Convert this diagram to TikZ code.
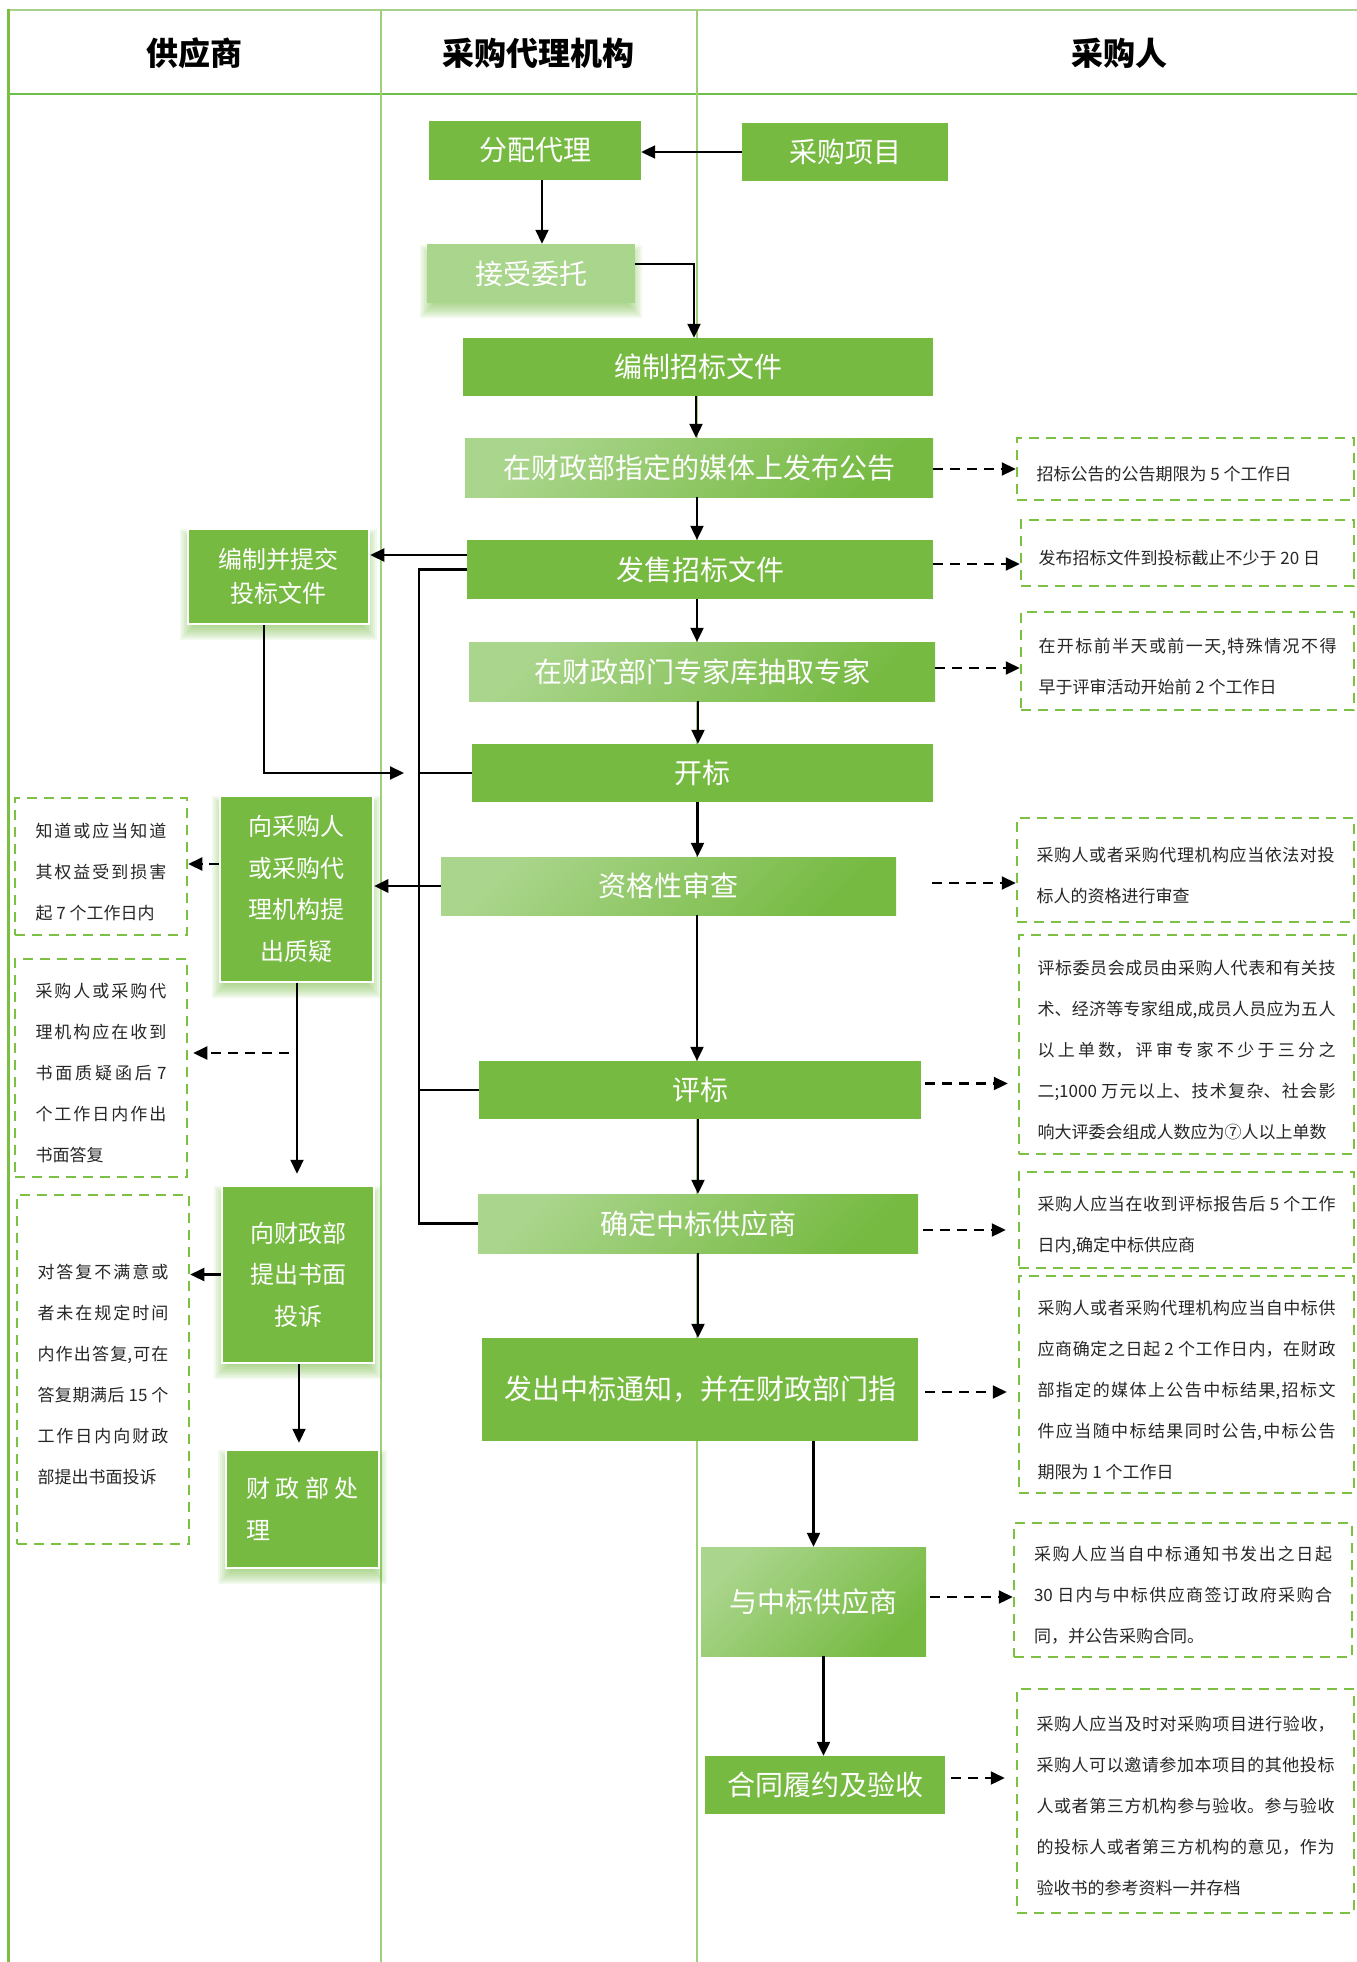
\documentclass[tikz,border=0pt]{standalone}
\usepackage{fontspec}
\setmainfont{Noto Sans CJK SC}
\usetikzlibrary{arrows.meta,calc}
% break opportunities between CJK characters, so that lines can be justified
\XeTeXlinebreaklocale "zh"
\XeTeXlinebreakskip=0pt plus 4pt
\tolerance=10000
\hbadness=10000
\hfuzz=4pt

\definecolor{gdark}{RGB}{118,186,66}
\definecolor{glight}{RGB}{170,213,140}
\definecolor{gdash}{RGB}{125,193,66}
\definecolor{lanegreen}{RGB}{122,190,68}
\definecolor{divgreen}{RGB}{158,208,122}
\definecolor{topgreen}{RGB}{169,209,142}
\definecolor{hdrgreen}{RGB}{108,192,74}
\definecolor{notegray}{RGB}{38,38,38}

\pgfdeclarelayer{lanes}
\pgfdeclarelayer{shadows}
\pgfsetlayers{lanes,shadows,main}

% soft green shadow under a box: stacked translucent rectangles
\newcommand\softshadow[1]{%
  \foreach \a/\b/\c/\d in {7/1/-7/15,5/3/-5/13,3/5/-3/11,1/7/-1/9,-1/9/1/7,-3/11/3/5,-5/13/5/3,-7/15/7/1}{%
    \fill[gdark,opacity=0.1] ($(#1.south west)+(\a,\b)$) rectangle ($(#1.north east)+(\c,\d)$);
  }}

\begin{document}
\begin{tikzpicture}[x=1pt,y=-1pt,
  every node/.style={inner sep=0pt},
  wh/.style 2 args={minimum width=#1, minimum height=#2},
  mainbox/.style={rectangle, fill=gdark, text=white, font=\fontsize{28}{34}\selectfont},
  lightbox/.style={mainbox, fill=glight},
  gradbox/.style={mainbox, top color=glight, bottom color=gdark, shading angle=45},
  supbox/.style={rectangle, fill=gdark, draw=white, line width=2.5pt, text=white, align=center, font=\fontsize{24}{41.5}\selectfont},
  note/.style={rectangle, draw=gdash, dash pattern=on 10pt off 7pt, line width=2.5pt, text=notegray, align=justify, font=\fontsize{17}{41}\selectfont, execute at begin node={\rule{0pt}{25pt}}},
  lnote/.style={note, text width=131},
  rnote/.style={note, text width=298},
  header/.style={font=\fontsize{32}{38}\selectfont\bfseries, text=black},
  conn/.style={draw=black, line width=2.2pt},
  arr/.style={conn, -{Triangle[length=14pt,width=13pt]}},
  darr/.style={arr, dash pattern=on 10pt off 7pt},
]
\useasboundingbox (0,0) rectangle (1357,1962);

% swim lanes
\begin{pgfonlayer}{lanes}
  \draw[topgreen, line width=2.5pt] (8,10) -- (1357,10);
  \draw[hdrgreen, line width=2pt] (8,94) -- (1357,94);
  \draw[divgreen, line width=1.5pt] (381,10) -- (381,1962);
  \draw[divgreen, line width=1.5pt] (697,10) -- (697,1962);
  \draw[lanegreen, line width=3pt] (8.5,9) -- (8.5,1962);
\end{pgfonlayer}

\node[header] (h1) at (194,53) {供应商};
\node[header] (h2) at (538,53) {采购代理机构};
\node[header] (h3) at (1119,53) {采购人};

% agency / purchaser flow
\node[mainbox, wh={212}{59}] (fpdl) at (535,150.5) {分配代理};
\node[mainbox, wh={206}{58}] (cgxm) at (845,152) {采购项目};
\node[lightbox, wh={208}{59}] (jswt) at (531,273.5) {接受委托};
\node[mainbox, wh={470}{58}] (bzzb) at (698,367) {编制招标文件};
\node[gradbox, wh={468}{59}] (fbgg) at (699,467.5) {在财政部指定的媒体上发布公告};
\node[mainbox, wh={466}{59}] (fszb) at (700,569.5) {发售招标文件};
\node[gradbox, wh={466}{59}] (cqzj) at (702,671.5) {在财政部门专家库抽取专家};
\node[mainbox, wh={461}{58}] (kb) at (702.5,773) {开标};
\node[gradbox, wh={455}{58}] (zg) at (668.5,886) {资格性审查};
\node[mainbox, wh={442}{58}] (pb) at (700,1090) {评标};
\node[gradbox, wh={440}{59}] (qd) at (698,1223.5) {确定中标供应商};
\node[mainbox, wh={436}{103}] (fc) at (700,1389.5) {发出中标通知，并在财政部门指};
\node[gradbox, wh={225}{109}] (qy) at (813.5,1601.5) {与中标供应商};
\node[mainbox, wh={240}{58}] (ht) at (825,1785) {合同履约及验收};

% supplier lane
\node[supbox, wh={181}{95}, font=\fontsize{24}{34}\selectfont] (tb) at (278.5,576.5) {编制并提交\\投标文件};
\node[supbox, wh={153}{186}] (zy) at (296.5,889) {向采购人\\或采购代\\理机构提\\出质疑};
\node[supbox, wh={152}{177}] (ts) at (298,1274.5) {向财政部\\提出书面\\投诉};
\node[supbox, wh={153}{118}, text width=113, align=justify] (cl) at (302.5,1509) {财政部处\linebreak 理};

% notes on the supplier side
\node[lnote, wh={172}{137}] (lb1) at (101,866.5) {知道或应当知道\linebreak 其权益受到损害\linebreak 起 7 个工作日内};
\node[lnote, wh={172}{218}] (lb2) at (101,1068) {采购人或采购代\linebreak 理机构应在收到\linebreak 书面质疑函后 7\linebreak 个工作日内作出\linebreak 书面答复};
\node[lnote, wh={172}{349}] (lb3) at (103,1369.5) {对答复不满意或\linebreak 者未在规定时间\linebreak 内作出答复,可在\linebreak 答复期满后 15 个\linebreak 工作日内向财政\linebreak 部提出书面投诉};

% notes on the purchaser side
\node[rnote, wh={337}{62}] (rb1) at (1185.5,469) {招标公告的公告期限为 5 个工作日};
\node[rnote, wh={333}{66}] (rb2) at (1187.5,553) {发布招标文件到投标截止不少于 20 日};
\node[rnote, wh={333}{98}] (rb3) at (1187.5,661) {在开标前半天或前一天,特殊情况不得\linebreak 早于评审活动开始前 2 个工作日};
\node[rnote, wh={337}{104}] (rb4) at (1185.5,870) {采购人或者采购代理机构应当依法对投\linebreak 标人的资格进行审查};
\node[rnote, wh={335}{219}] (rb5) at (1186.5,1044.5) {评标委员会成员由采购人代表和有关技\linebreak 术、经济等专家组成,成员人员应为五人\linebreak 以上单数，评审专家不少于三分之\linebreak 二;1000 万元以上、技术复杂、社会影\linebreak 响大评委会组成人数应为⑦人以上单数};
\node[rnote, wh={335}{96}] (rb6) at (1186.5,1220) {采购人应当在收到评标报告后 5 个工作\linebreak 日内,确定中标供应商};
\node[rnote, wh={335}{217}] (rb7) at (1186.5,1384.5) {采购人或者采购代理机构应当自中标供\linebreak 应商确定之日起 2 个工作日内，在财政\linebreak 部指定的媒体上公告中标结果,招标文\linebreak 件应当随中标结果同时公告,中标公告\linebreak 期限为 1 个工作日};
\node[rnote, wh={338}{134}] (rb8) at (1183,1590) {采购人应当自中标通知书发出之日起\linebreak 30 日内与中标供应商签订政府采购合\linebreak 同，并公告采购合同。};
\node[rnote, wh={337}{224}] (rb9) at (1185.5,1801) {采购人应当及时对采购项目进行验收，\linebreak 采购人可以邀请参加本项目的其他投标\linebreak 人或者第三方机构参与验收。参与验收\linebreak 的投标人或者第三方机构的意见，作为\linebreak 验收书的参考资料一并存档};

\begin{pgfonlayer}{shadows}
  \softshadow{jswt}
  \softshadow{tb}
  \softshadow{zy}
  \softshadow{ts}
  \softshadow{cl}
\end{pgfonlayer}

% free ends of connectors
\coordinate (busx) at (419,0);
\coordinate (tbin) at (404,773);
\coordinate (zyq) at (289,1053);
\coordinate (zgd) at ([xshift=36,yshift=3]zg.east);

% main flow
\draw[arr] (cgxm.west) -- (cgxm.west -| fpdl.east);
\draw[arr, line width=1.8pt] ([xshift=7]fpdl.south) -- ([xshift=7]fpdl.south |- jswt.north);
\draw[arr] ([yshift=9.5]jswt.east) -| ([xshift=-4]bzzb.north);
\draw[arr] ([xshift=-2]bzzb.south) -- ([xshift=-2]bzzb.south |- fbgg.north);
\draw[arr] ([xshift=-2]fbgg.south) -- ([xshift=-2]fbgg.south |- fszb.north);
\draw[arr] ([xshift=-3]fszb.south) -- ([xshift=-3]fszb.south |- cqzj.north);
\draw[arr] ([xshift=-4]cqzj.south) -- ([xshift=-4]cqzj.south |- kb.north);
\draw[arr] ([xshift=-5]kb.south) -- ([xshift=-5]kb.south |- zg.north);
\draw[arr] ([xshift=-3]pb.north |- zg.south) -- ([xshift=-3]pb.north);
\draw[arr] ([xshift=-2]pb.south) -- ([xshift=-2]pb.south |- qd.north);
\draw[arr] (qd.south) -- (qd.south |- fc.north);
\draw[arr] (qy.north |- fc.south) -- (qy.north);
\draw[arr] ([xshift=10]qy.south) -- ([xshift=10]qy.south |- ht.north);

% supplier side
\draw[arr] ([yshift=14.5]fszb.west) -- ([yshift=14.5]fszb.west -| tb.east);
\draw[conn] (fszb.west) -- (fszb.west -| busx) -- (qd.west -| busx) -- (qd.west);
\draw[conn] (kb.west) -- (kb.west -| busx);
\draw[conn] (pb.west) -- (pb.west -| busx);
\draw[arr, line width=2.8pt] (zg.west) -- (zg.west -| zy.east);
\draw[arr] ([xshift=-14.5]tb.south) |- (tbin);
\draw[darr] ([yshift=25]zy.west) -- ([yshift=25]zy.west -| lb1.east);
\draw[arr, shorten >=11pt] ([xshift=0.5]zy.south) -- ([xshift=0.5]zy.south |- ts.north);
\draw[darr, shorten >=5pt] (zyq) -- (zyq -| lb2.east);
\draw[arr] (ts.west) -- (ts.west -| lb3.east);
\draw[arr, shorten >=6pt] ([xshift=1]ts.south) -- ([xshift=1]ts.south |- cl.north);

% purchaser notes
\draw[darr] (rb1.west -| fbgg.east) -- (rb1.west);
\draw[darr] ([yshift=5.5]fszb.east) -- ([yshift=5.5]fszb.east -| rb2.west);
\draw[darr] ([yshift=3.5]cqzj.east) -- ([yshift=3.5]cqzj.east -| rb3.west);
\draw[darr] (zgd) -- (zgd -| rb4.west);
\draw[darr, shorten >=10pt] ([xshift=4,yshift=6.5]pb.east) -- ([yshift=6.5]pb.east -| rb5.west);
\draw[darr, shorten >=12pt] ([xshift=5,yshift=-6.5]qd.east) -- ([yshift=-6.5]qd.east -| rb6.west);
\draw[darr, shorten >=11pt] ([xshift=7,yshift=-2.5]fc.east) -- ([yshift=-2.5]fc.east -| rb7.west);
\draw[darr] ([xshift=4,yshift=4.5]qy.east) -- ([yshift=4.5]qy.east -| rb8.west);
\draw[darr, shorten >=11pt] ([xshift=6,yshift=7]ht.east) -- ([yshift=7]ht.east -| rb9.west);
\end{tikzpicture}
\end{document}
